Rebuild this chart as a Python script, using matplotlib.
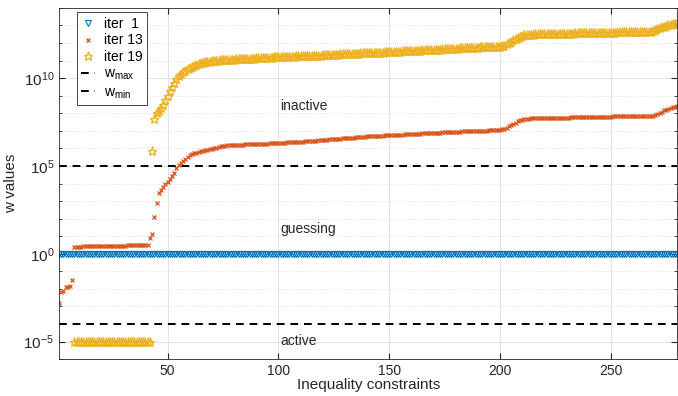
import matplotlib
matplotlib.use("Agg")
import matplotlib.pyplot as plt
import matplotlib.ticker as mticker
import numpy as np

plt.rcParams['font.family'] = ['Liberation Sans', 'DejaVu Sans']
plt.rcParams['mathtext.fontset'] = 'custom'
plt.rcParams['mathtext.rm'] = 'Liberation Sans'
plt.rcParams['mathtext.it'] = 'Liberation Sans:italic'

# data: log10 of w, constraint index 1..280
n_constraints = 280
iter1_log = [0.0] * n_constraints

iter13_log = [
    -2.80, -2.15, -2.10, -1.90, -1.90, -1.85, -1.50, 0.40, 0.40, 0.41,
    0.41, 0.42, 0.42, 0.42, 0.43, 0.43, 0.43, 0.44, 0.44, 0.44,
    0.45, 0.45, 0.45, 0.46, 0.46, 0.46, 0.46, 0.47, 0.47, 0.47,
    0.47, 0.48, 0.48, 0.48, 0.48, 0.49, 0.49, 0.49, 0.49, 0.50,
    0.50, 0.90, 1.10, 2.10, 2.90, 3.45, 3.65, 3.80, 4.00, 4.10,
    4.25, 4.45, 4.60, 4.90, 5.05, 5.17, 5.30, 5.42, 5.52, 5.60,
    5.66, 5.72, 5.76, 5.80, 5.84, 5.87, 5.90, 5.93, 5.96, 5.99,
    6.02, 6.05, 6.08, 6.11, 6.13, 6.15, 6.17, 6.18, 6.19, 6.20,
    6.21, 6.21, 6.22, 6.22, 6.23, 6.24, 6.24, 6.25, 6.25, 6.26,
    6.26, 6.27, 6.27, 6.28, 6.28, 6.29, 6.30, 6.30, 6.31, 6.32,
    6.32, 6.33, 6.33, 6.34, 6.35, 6.35, 6.36, 6.37, 6.38, 6.38,
    6.39, 6.40, 6.41, 6.42, 6.43, 6.44, 6.45, 6.46, 6.47, 6.48,
    6.49, 6.50, 6.51, 6.52, 6.53, 6.54, 6.55, 6.56, 6.57, 6.58,
    6.59, 6.60, 6.61, 6.62, 6.63, 6.64, 6.65, 6.66, 6.67, 6.68,
    6.69, 6.70, 6.70, 6.71, 6.72, 6.72, 6.73, 6.74, 6.74, 6.75,
    6.76, 6.76, 6.77, 6.78, 6.78, 6.79, 6.80, 6.80, 6.81, 6.82,
    6.82, 6.83, 6.84, 6.84, 6.85, 6.86, 6.86, 6.87, 6.88, 6.88,
    6.89, 6.90, 6.90, 6.91, 6.92, 6.92, 6.93, 6.94, 6.94, 6.95,
    6.96, 6.96, 6.97, 6.97, 6.98, 6.98, 6.99, 6.99, 7.00, 7.00,
    7.01, 7.01, 7.02, 7.02, 7.03, 7.03, 7.04, 7.04, 7.05, 7.05,
    7.08, 7.12, 7.18, 7.25, 7.32, 7.40, 7.47, 7.54, 7.59, 7.63,
    7.66, 7.69, 7.70, 7.71, 7.71, 7.71, 7.72, 7.72, 7.72, 7.73,
    7.73, 7.73, 7.74, 7.74, 7.74, 7.75, 7.75, 7.75, 7.76, 7.76,
    7.76, 7.77, 7.77, 7.77, 7.78, 7.78, 7.78, 7.78, 7.79, 7.79,
    7.79, 7.79, 7.80, 7.80, 7.80, 7.80, 7.81, 7.81, 7.81, 7.81,
    7.82, 7.82, 7.82, 7.82, 7.82, 7.83, 7.83, 7.83, 7.83, 7.83,
    7.84, 7.84, 7.84, 7.84, 7.84, 7.84, 7.85, 7.85, 7.86, 7.90,
    7.96, 8.03, 8.10, 8.16, 8.21, 8.26, 8.30, 8.33, 8.36, 8.40,
]

nan = float('nan')
iter19_log = [
    nan, nan, nan, nan, nan, nan, nan, -5.0, -5.0, -5.0,
    -5.0, -5.0, -5.0, -5.0, -5.0, -5.0, -5.0, -5.0, -5.0, -5.0,
    -5.0, -5.0, -5.0, -5.0, -5.0, -5.0, -5.0, -5.0, -5.0, -5.0,
    -5.0, -5.0, -5.0, -5.0, -5.0, -5.0, -5.0, -5.0, -5.0, -5.0,
    -5.0, -5.0, 5.85, 7.65, 8.00, 8.15, 8.30, 8.50, 8.75, 9.00,
    9.25, 9.50, 9.75, 9.95, 10.10, 10.22, 10.33, 10.42, 10.50, 10.58,
    10.64, 10.70, 10.75, 10.80, 10.84, 10.87, 10.90, 10.92, 10.94, 10.96,
    10.98, 10.99, 11.00, 11.01, 11.02, 11.03, 11.04, 11.05, 11.06, 11.06,
    11.07, 11.08, 11.08, 11.09, 11.10, 11.10, 11.11, 11.11, 11.12, 11.13,
    11.13, 11.14, 11.15, 11.15, 11.16, 11.17, 11.17, 11.18, 11.19, 11.20,
    11.20, 11.21, 11.21, 11.22, 11.22, 11.23, 11.23, 11.24, 11.24, 11.25,
    11.25, 11.26, 11.26, 11.27, 11.27, 11.28, 11.28, 11.29, 11.29, 11.30,
    11.30, 11.31, 11.31, 11.32, 11.33, 11.33, 11.34, 11.35, 11.35, 11.36,
    11.37, 11.37, 11.38, 11.39, 11.39, 11.40, 11.41, 11.41, 11.42, 11.43,
    11.43, 11.44, 11.44, 11.45, 11.45, 11.46, 11.46, 11.47, 11.47, 11.48,
    11.49, 11.49, 11.50, 11.51, 11.51, 11.52, 11.52, 11.53, 11.54, 11.54,
    11.55, 11.56, 11.56, 11.57, 11.58, 11.58, 11.59, 11.60, 11.60, 11.61,
    11.62, 11.62, 11.63, 11.64, 11.64, 11.65, 11.66, 11.66, 11.67, 11.68,
    11.68, 11.69, 11.70, 11.70, 11.71, 11.72, 11.72, 11.73, 11.74, 11.74,
    11.75, 11.75, 11.76, 11.76, 11.77, 11.77, 11.77, 11.78, 11.78, 11.78,
    11.81, 11.86, 11.92, 11.99, 12.07, 12.15, 12.23, 12.30, 12.36, 12.41,
    12.44, 12.46, 12.47, 12.48, 12.48, 12.49, 12.49, 12.49, 12.50, 12.50,
    12.50, 12.51, 12.51, 12.51, 12.52, 12.52, 12.52, 12.53, 12.53, 12.53,
    12.54, 12.54, 12.54, 12.55, 12.55, 12.55, 12.56, 12.56, 12.56, 12.57,
    12.57, 12.57, 12.58, 12.58, 12.58, 12.59, 12.59, 12.59, 12.60, 12.60,
    12.60, 12.60, 12.61, 12.61, 12.61, 12.61, 12.62, 12.62, 12.62, 12.62,
    12.62, 12.63, 12.63, 12.63, 12.63, 12.63, 12.64, 12.65, 12.68, 12.72,
    12.78, 12.84, 12.89, 12.94, 12.98, 13.01, 13.04, 13.06, 13.08, 13.10,
]

w_max = 1e5
w_min = 1e-4
region_labels = ['inactive', 'guessing', 'active']
region_label_x = 101
region_label_y = [10**8.4, 10**1.4, 10**-4.95]


def main():
    x = np.arange(1, n_constraints + 1)
    fig = plt.figure(figsize=(6.78, 3.96), dpi=100)
    ax = fig.add_axes([0.087, 0.093, 0.912, 0.887])

    ax.plot(x, 10.0 ** np.array(iter1_log), 'v', color='#0072BD',
            mfc='none', ms=5, mew=0.8, label='iter  1')
    ax.plot(x, 10.0 ** np.array(iter13_log), 'x', color='#D95319',
            ms=3.5, mew=0.9, label='iter 13')
    ax.plot(x, 10.0 ** np.array(iter19_log), '*', color='#EDB120',
            mfc='none', ms=6.5, mew=0.9, label='iter 19')
    ax.axhline(w_max, color='black', ls=(0, (4, 3)), lw=1.4, label='$\\mathrm{w}_{\\mathrm{max}}$')
    ax.axhline(w_min, color='black', ls=(0, (4, 3)), lw=1.4, label='$\\mathrm{w}_{\\mathrm{min}}$')

    for txt, yy in zip(region_labels, region_label_y):
        ax.text(region_label_x, yy, txt, fontsize=10, ha='left', va='center', color='#262626')

    ax.set_yscale('log')
    ax.set_xlim(1, 280)
    ax.set_ylim(1e-6, 1e14)
    ax.set_xticks([50, 100, 150, 200, 250])
    ax.set_yticks([1e-5, 1e0, 1e5, 1e10])
    ax.set_yticklabels(['$10^{-5}$', '$10^{0}$', '$10^{5}$', '$10^{10}$'])
    ax.yaxis.set_minor_locator(mticker.FixedLocator([10.0 ** k for k in range(-6, 15)]))
    ax.yaxis.set_minor_formatter(mticker.NullFormatter())

    ax.tick_params(which='both', direction='in', top=True, right=True,
                   labelsize=10, colors='#262626')
    ax.tick_params(axis='y', which='major', labelsize=11)
    ax.tick_params(which='major', length=4)
    ax.tick_params(which='minor', length=2.5)
    ax.grid(True, which='major', color='#e3e3e3', lw=0.8)
    ax.grid(True, which='minor', axis='y', color='#dcdcdc', lw=0.6, ls=':')
    ax.set_axisbelow(True)
    for s in ax.spines.values():
        s.set_color('#262626')
        s.set_linewidth(0.6)

    ax.set_xlabel('Inequality constraints', fontsize=11, color='#262626', labelpad=0)
    ax.set_ylabel('w values', fontsize=11, color='#262626', labelpad=4)

    leg = ax.legend(loc='upper left', bbox_to_anchor=(0.025, 0.995), fontsize=10,
                    fancybox=False, framealpha=1, edgecolor='#262626',
                    handlelength=1.0, handletextpad=0.6, borderpad=0.3,
                    labelspacing=0.2, borderaxespad=0.2)
    leg.get_frame().set_linewidth(0.6)

    fig.savefig('out.png', dpi=100)


if __name__ == "__main__":
    main()
